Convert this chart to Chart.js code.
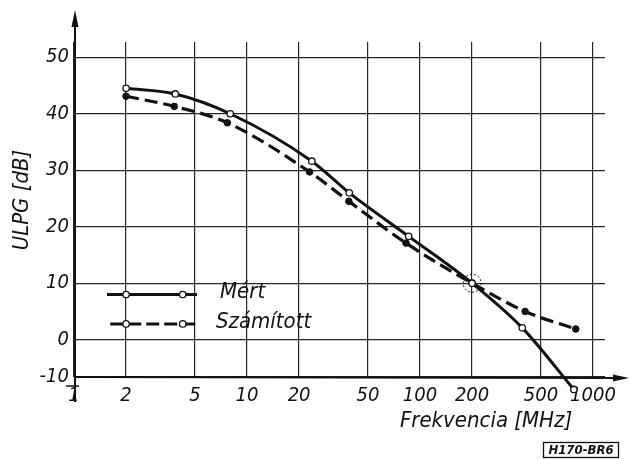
<!DOCTYPE html>
<html>
<head>
<meta charset="utf-8">
<script src="https://cdn.jsdelivr.net/npm/chart.js@4"></script>
<style>
  html, body { margin: 0; padding: 0; background: #fff; }
  #wrap { position: relative; width: 630px; height: 459px; }
</style>
</head>
<body>
<div id="wrap"><canvas id="c" width="630" height="459"></canvas></div>
<script>
// ---- data ----
const mertFreq   = [2, 3.85, 8, 23.7, 39, 86, 200, 390, 775]
const mertDb     = [44.5, 43.5, 40, 31.6, 26, 18.3, 10, 2.1, -8.8]
const szamFreq   = [2, 3.8, 7.7, 23, 38.8, 83, 200, 405, 795]
const szamDb     = [43.1, 41.3, 38.4, 29.7, 24.5, 17.1, 10, 5.0, 1.9]
const seriesNames = ['Mért', 'Számított']

const xTicks = [1, 2, 5, 10, 20, 50, 100, 200, 500, 1000]
const yTicks = [0, 10, 20, 30, 40, 50]
const yBottomLabel = '-10'

const X_MIN = 1, X_MAX = 1173
const Y_MIN = -6.6, Y_MAX = 52.7

const INK  = '#111'
const FONT = "'Liberation Sans Narrow', 'DejaVu Sans Condensed', 'Liberation Sans', sans-serif"

const toPts = (xs, ys) => xs.map((x, i) => ({ x, y: ys[i] }))

// axes with arrows, titles, legend, stamp
const decor = {
  id: 'decor',
  afterDatasetsDraw(chart) {
    const { ctx, chartArea: a, scales: { x, y } } = chart
    ctx.save()
    ctx.strokeStyle = INK
    ctx.fillStyle = INK

    // points that fall outside the plot area (chart.js skips them)
    chart.data.datasets.forEach((ds, di) => {
      chart.getDatasetMeta(di).data.forEach(pt => {
        if (pt.y <= a.bottom + 1 && pt.y >= a.top) return
        ctx.beginPath()
        ctx.arc(pt.x, pt.y, ds.pointRadius, 0, Math.PI * 2)
        ctx.fillStyle = ds.pointBackgroundColor
        ctx.fill()
        ctx.lineWidth = ds.pointBorderWidth
        ctx.stroke()
      })
    })
    ctx.fillStyle = INK

    // y axis + arrow
    ctx.lineWidth = 2
    ctx.beginPath()
    ctx.moveTo(a.left + 1, 402)
    ctx.lineTo(a.left + 1, 22)
    ctx.stroke()
    ctx.beginPath()
    ctx.moveTo(a.left + 1, 10)
    ctx.lineTo(a.left - 2.5, 27)
    ctx.lineTo(a.left + 4.5, 27)
    ctx.closePath()
    ctx.fill()
    // small cross tick at the bottom
    ctx.lineWidth = 1.5
    ctx.beginPath()
    ctx.moveTo(a.left - 8, 386)
    ctx.lineTo(a.left + 5, 386)
    ctx.stroke()

    // x axis + arrow
    ctx.lineWidth = 2
    ctx.beginPath()
    ctx.moveTo(a.left, a.bottom)
    ctx.lineTo(618, a.bottom + 1)
    ctx.stroke()
    ctx.beginPath()
    ctx.moveTo(629, a.bottom + 1)
    ctx.lineTo(613, a.bottom - 2.5)
    ctx.lineTo(613, a.bottom + 4.5)
    ctx.closePath()
    ctx.fill()

    // dashed ring round the crossing point
    ctx.lineWidth = 1
    ctx.setLineDash([2, 2])
    ctx.beginPath()
    ctx.arc(x.getPixelForValue(200), y.getPixelForValue(10), 9, 0, Math.PI * 2)
    ctx.stroke()
    ctx.setLineDash([])

    // legend
    const rows = [
      { yv: 8.0, dash: [], x0: 1.55 },
      { yv: 2.8, dash: [13, 5], x0: 1.62 }
    ]
    rows.forEach((r, i) => {
      const py = y.getPixelForValue(r.yv)
      ctx.lineWidth = 3
      ctx.setLineDash(r.dash)
      ctx.beginPath()
      ctx.moveTo(x.getPixelForValue(r.x0), py)
      ctx.lineTo(x.getPixelForValue(5.15), py)
      ctx.stroke()
      ctx.setLineDash([])
      ;[2, 4.25].forEach(v => {
        ctx.beginPath()
        ctx.arc(x.getPixelForValue(v), py, 3.2, 0, Math.PI * 2)
        ctx.fillStyle = '#fff'
        ctx.fill()
        ctx.lineWidth = 1.3
        ctx.stroke()
      })
      ctx.fillStyle = INK
      ctx.font = `italic 22px ${FONT}`
      ctx.textAlign = 'left'
      ctx.textBaseline = 'middle'
      ctx.fillText(seriesNames[i], i === 0 ? 220 : 216, py - 2)
    })

    // axis titles
    ctx.font = `italic 22px ${FONT}`
    ctx.textAlign = 'center'
    ctx.textBaseline = 'middle'
    ctx.fillText('Frekvencia [MHz]', 486, 421)
    ctx.save()
    ctx.translate(22, 200)
    ctx.rotate(-Math.PI / 2)
    ctx.fillText('ULPG [dB]', 0, 0)
    ctx.restore()

    // drawing number stamp
    ctx.lineWidth = 1.3
    ctx.strokeRect(543.5, 442.5, 75, 15)
    ctx.font = `italic bold 13px ${FONT}`
    ctx.fillText('H170-BR6', 581, 450.5)

    ctx.restore()
  }
}

new Chart(document.getElementById('c'), {
  type: 'line',
  data: {
    datasets: [
      {
        label: seriesNames[0],
        data: toPts(mertFreq, mertDb),
        borderColor: INK, borderWidth: 3,
        cubicInterpolationMode: 'monotone',
        pointRadius: 3.2, pointBackgroundColor: '#fff',
        pointBorderColor: INK, pointBorderWidth: 1.3,
        clip: false, order: 1
      },
      {
        label: seriesNames[1],
        data: toPts(szamFreq, szamDb),
        borderColor: INK, borderWidth: 3.2,
        borderDash: [13, 6],
        cubicInterpolationMode: 'monotone',
        pointRadius: 3.3, pointBackgroundColor: INK,
        pointBorderColor: INK, pointBorderWidth: 1,
        clip: false, order: 2
      }
    ]
  },
  options: {
    responsive: false,
    animation: false,
    layout: { padding: { top: 42, right: 25, left: 0, bottom: 0 } },
    plugins: { legend: { display: false }, tooltip: { enabled: false } },
    scales: {
      x: {
        type: 'logarithmic',
        min: X_MIN, max: X_MAX,
        afterBuildTicks: s => { s.ticks = xTicks.map(v => ({ value: v })) },
        afterFit: s => { s.height = 82 },
        ticks: {
          color: INK, padding: 7, autoSkip: false, maxRotation: 0,
          font: { family: FONT, size: 20, style: 'italic' },
          callback: v => String(v)
        },
        grid: { color: 'rgba(0,0,0,0.85)', lineWidth: 1.2, drawTicks: false },
        border: { display: false }
      },
      y: {
        min: Y_MIN, max: Y_MAX,
        afterBuildTicks: s => { s.ticks = [Y_MIN, ...yTicks].map(v => ({ value: v })) },
        afterFit: s => { s.width = 74 },
        ticks: {
          color: INK, padding: 5,
          font: { family: FONT, size: 20, style: 'italic' },
          callback: v => v === Y_MIN ? yBottomLabel : String(v)
        },
        grid: { color: 'rgba(0,0,0,0.85)', lineWidth: 1.2, drawTicks: false },
        border: { display: false }
      }
    }
  },
  plugins: [decor]
})
</script>
</body>
</html>
